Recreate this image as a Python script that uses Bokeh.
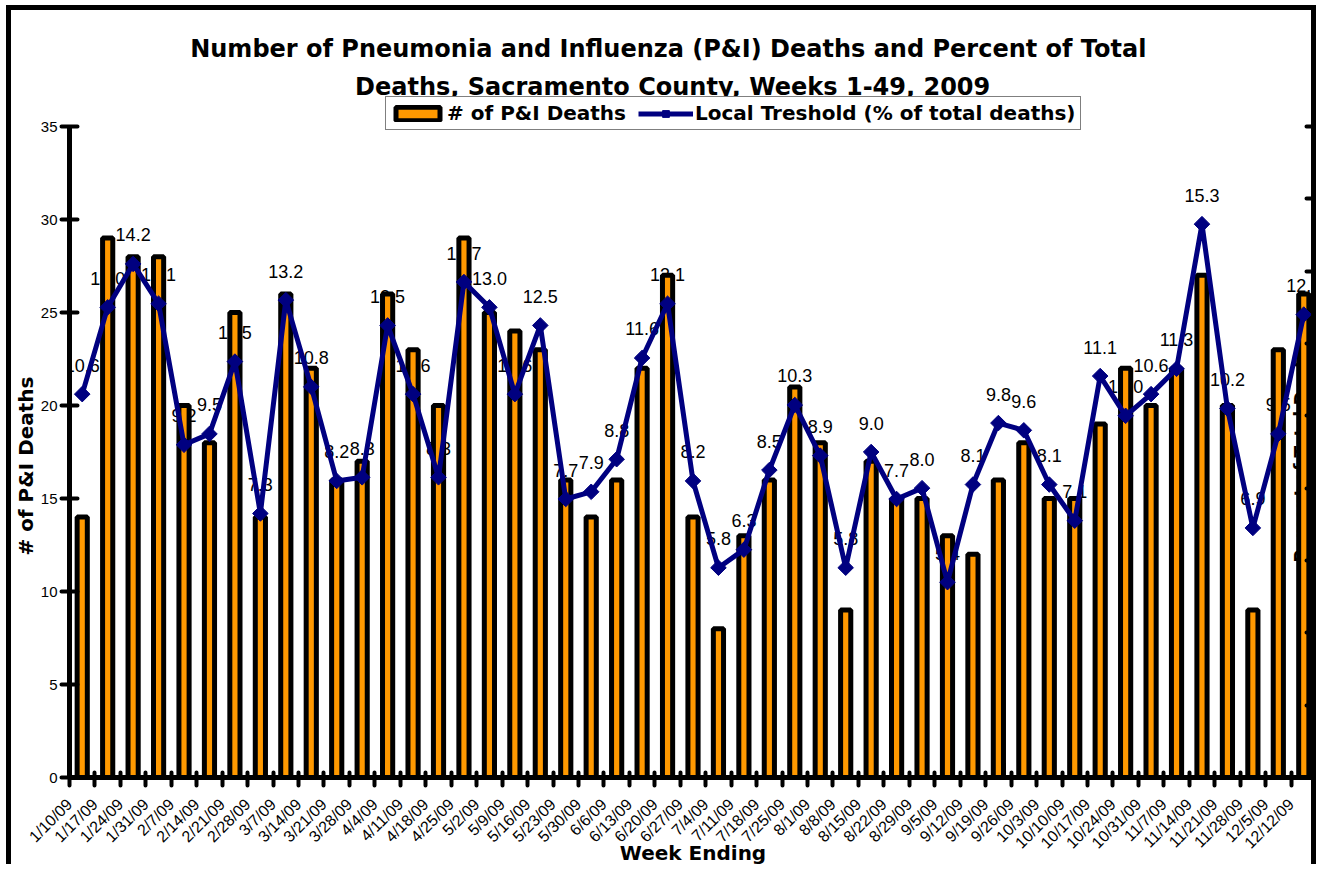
from math import pi
from bokeh.plotting import figure
from bokeh.models import (Range1d, LinearAxis, FixedTicker, Label, Legend,
                          LegendItem, ColumnDataSource, Title)
from bokeh.core.properties import value
from bokeh.embed import file_html
from bokeh.resources import INLINE

weeks = ["1/10/09", "1/17/09", "1/24/09", "1/31/09", "2/7/09", "2/14/09", "2/21/09",
         "2/28/09", "3/7/09", "3/14/09", "3/21/09", "3/28/09", "4/4/09", "4/11/09",
         "4/18/09", "4/25/09", "5/2/09", "5/9/09", "5/16/09", "5/23/09", "5/30/09",
         "6/6/09", "6/13/09", "6/20/09", "6/27/09", "7/4/09", "7/11/09", "7/18/09",
         "7/25/09", "8/1/09", "8/8/09", "8/15/09", "8/22/09", "8/29/09", "9/5/09",
         "9/12/09", "9/19/09", "9/26/09", "10/3/09", "10/10/09", "10/17/09",
         "10/24/09", "10/31/09", "11/7/09", "11/14/09", "11/21/09", "11/28/09",
         "12/5/09", "12/12/09"]

deaths = [14, 29, 28, 28, 20, 18, 25, 14, 26, 22, 16, 17, 26, 23, 20, 29, 25, 24, 23,
          16, 14, 16, 22, 27, 14, 8, 13, 16, 21, 18, 9, 17, 15, 15, 13, 12, 16, 18,
          15, 15, 19, 22, 20, 22, 27, 20, 9, 23, 26]

pct_total = [10.6, 13.0, 14.2, 13.1, 9.2, 9.5, 11.5, 7.3, 13.2, 10.8, 8.2, 8.3, 12.5,
             10.6, 8.3, 13.7, 13.0, 10.6, 12.5, 7.7, 7.9, 8.8, 11.6, 13.1, 8.2, 5.8,
             6.3, 8.5, 10.3, 8.9, 5.8, 9.0, 7.7, 8.0, 5.4, 8.1, 9.8, 9.6, 8.1, 7.1,
             11.1, 10.0, 10.6, 11.3, 15.3, 10.2, 6.9, 9.5, 12.8]

left_ticks = [0, 5, 10, 15, 20, 25, 30, 35]
right_ticks = [0, 2, 4, 6, 8, 10, 12, 14, 16, 18]

title_1 = "Number of Pneumonia and Influenza (P&I) Deaths and Percent of Total"
title_2 = "Deaths, Sacramento County, Weeks 1-49, 2009"

ORANGE = "#FF9900"
NAVY = "#000080"

# geometry: the frame reaches the top of the canvas, axes are bounded
FRAME_H = 767     # pixels from canvas top to the x axis
AXIS_H = 651      # pixels used by the 0..35 axis
LEFT_MAX = 35
RIGHT_MAX = 18
LABEL_SHIFT = -0.5   # tick labels end slightly left of the bar centre
y_end = LEFT_MAX * FRAME_H / AXIS_H
y2_end = RIGHT_MAX * FRAME_H / AXIS_H

xs = [i + 0.5 for i in range(len(weeks))]
label_pos = [x + LABEL_SHIFT for x in xs]
src = ColumnDataSource(dict(x=xs, deaths=deaths, pct=pct_total,
                            lbl=[f"{v:.1f}" for v in pct_total], week=weeks))

p = figure(width=1310, height=859, output_backend="svg", toolbar_location=None,
           x_range=Range1d(0, len(weeks)), y_range=Range1d(0, y_end),
           min_border_left=58, min_border_right=5, min_border_top=0,
           min_border_bottom=92)
p.extra_y_ranges = {"pct": Range1d(0, y2_end)}
p.styles = {"border-top": "5px solid black", "border-left": "5px solid black",
            "border-right": "5px solid black", "margin-left": "6px",
            "margin-top": "5px"}
p.xgrid.visible = False
p.ygrid.visible = False
p.outline_line_color = None
p.background_fill_color = "white"
p.border_fill_color = "white"

# data labels (drawn first, bars cover them)
p.text(x="x", y="pct", text="lbl", source=src, y_range_name="pct",
       text_font=value("Liberation Sans"), text_font_size="18px",
       text_align="center", text_baseline="middle", y_offset=-29, text_color="black")

# right axis title, hidden behind the last bar
p.text(x=[48.4], y=[17.6], text=["Percent of Total Deaths"], angle=pi / 2,
       text_font=value("DejaVu Sans"), text_font_style="bold", text_font_size="17px",
       text_align="center", text_baseline="middle", text_color="black")

bars = p.vbar(x="x", top="deaths", bottom=0, width=0.4, source=src,
              fill_color=ORANGE, line_color="black", line_width=5)
line = p.line(x="x", y="pct", source=src, y_range_name="pct",
              line_color=NAVY, line_width=5)
marks = p.scatter(x="x", y="pct", source=src, y_range_name="pct", marker="square",
                  angle=pi / 4, size=11, fill_color=NAVY, line_color=NAVY, line_width=1)

# x axis
xa = p.xaxis[0]
xa.ticker = FixedTicker(ticks=label_pos, minor_ticks=list(range(0, len(weeks) + 1)))
xa.major_label_overrides = {xv: w for xv, w in zip(label_pos, weeks)}
xa.major_label_orientation = pi / 4
xa.major_tick_line_color = None
xa.major_tick_out = 6
xa.major_tick_in = 0
xa.minor_tick_line_color = "black"
xa.minor_tick_line_width = 4
xa.minor_tick_line_cap = "round"
xa.minor_tick_in = 5
xa.minor_tick_out = 8
xa.axis_line_width = 5
xa.axis_line_color = "black"
xa.major_label_text_font = "Liberation Sans"
xa.major_label_text_font_size = "16px"
xa.major_label_text_color = "black"
xa.major_label_standoff = 16
xa.axis_label = "Week Ending"
xa.axis_label_text_font = "DejaVu Sans"
xa.axis_label_text_font_style = "bold"
xa.axis_label_text_font_size = "20px"
xa.axis_label_text_color = "black"
xa.axis_label_standoff = -20

# left axis
ya = p.yaxis[0]
ya.bounds = (0, LEFT_MAX)
ya.ticker = FixedTicker(ticks=left_ticks)
ya.major_tick_in = 8
ya.major_tick_out = 8
ya.major_tick_line_width = 4
ya.major_tick_line_cap = "round"
ya.minor_tick_line_color = None
ya.axis_line_width = 5
ya.major_label_text_font = "Liberation Sans"
ya.major_label_text_font_size = "15px"
ya.major_label_text_color = "black"
ya.major_label_standoff = 4

# left axis title as a side title, placed along the bounded axis
p.add_layout(Title(text="# of P&I Deaths", align="left", offset=222, standoff=0,
                   text_font="DejaVu Sans", text_font_style="bold",
                   text_font_size="20px", text_color="black"), "left")

# right axis
ra = LinearAxis(y_range_name="pct", ticker=FixedTicker(ticks=right_ticks),
                bounds=(0, RIGHT_MAX),
                major_label_text_font_size="0px", major_label_text_color=None,
                major_tick_in=10, major_tick_out=3, major_tick_line_width=4,
                major_tick_line_cap="round", minor_tick_line_color=None,
                axis_line_width=5, major_label_standoff=0)
p.add_layout(ra, "right")

# titles inside the (extended) frame
p.add_layout(Label(x=23.53, y=39.19, text=title_1, text_font="DejaVu Sans",
                   text_font_style="bold", text_font_size="24px", text_align="center",
                   text_baseline="middle", text_color="black"))
p.add_layout(Label(x=23.7, y=37.1, text=title_2, text_font="DejaVu Sans",
                   text_font_style="bold", text_font_size="24px", text_align="center",
                   text_baseline="middle", text_color="black"))

legend = Legend(items=[LegendItem(label="# of P&I Deaths", renderers=[bars]),
                       LegendItem(label="Local Treshold (% of total deaths)",
                                  renderers=[line, marks])],
                location=(316, 647), orientation="horizontal",
                label_text_font="DejaVu Sans", label_text_font_style="bold",
                label_text_font_size="20px", label_text_color="black",
                glyph_width=55, glyph_height=17, label_standoff=2, spacing=12,
                padding=4, margin=0, border_line_color="black", border_line_width=1,
                background_fill_color="white", background_fill_alpha=1.0)
p.add_layout(legend)

open("out.html", "w").write(file_html(p, INLINE))
